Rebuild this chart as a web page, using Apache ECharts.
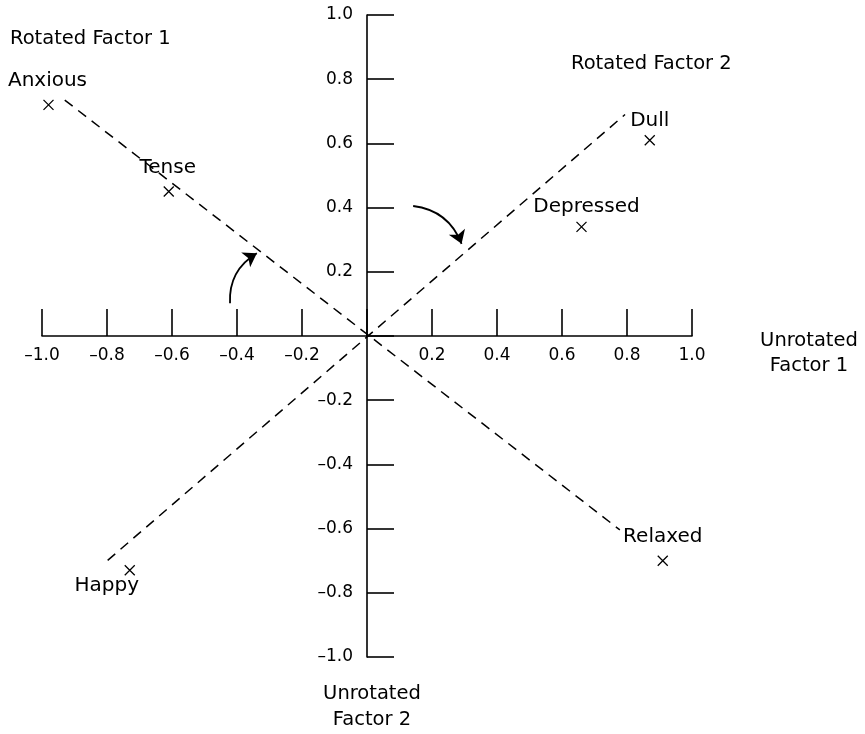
<!DOCTYPE html>
<html>
<head>
<meta charset="utf-8">
<script src="https://cdn.jsdelivr.net/npm/echarts@6/dist/echarts.min.js"></script>
<style>html,body{margin:0;padding:0;background:#fff}#c{width:865px;height:734px}</style>
</head>
<body>
<div id="c"></div>
<script>
// ---- data ----
var pointNames = ['Anxious', 'Tense', 'Dull', 'Depressed', 'Happy', 'Relaxed'];
var factor1 = [-0.98, -0.61, 0.87, 0.66, -0.73, 0.91];
var factor2 = [0.72, 0.45, 0.61, 0.34, -0.73, -0.70];
var rotatedAxis1 = [[-0.93, 0.735], [0.778, -0.604]];
var rotatedAxis2 = [[-0.798, -0.699], [0.794, 0.690]];
var arrow1 = [[-0.4215, 0.102], [-0.339, 0.258]];
var arrow2 = [[0.142, 0.405], [0.291, 0.287]];
var axisMin = -1.0, axisMax = 1.0, axisStep = 0.2;

// ---- styles / layout ----
var FONT = 'DejaVu Sans';
var GRID = { left: 42, right: 173, top: 15, bottom: 77 };
var GW = 865 - GRID.left - GRID.right, GH = 734 - GRID.top - GRID.bottom;
var labelOffsets = {
  'Anxious': [-1, -24], 'Tense': [-1, -24], 'Dull': [0, -19],
  'Depressed': [5, -20], 'Happy': [-23, 15], 'Relaxed': [0, -24]
};

function fmt(v) {
  if (Math.abs(v) < 1e-9) return '';
  return v.toFixed(1).replace('-', '\u2013');
}

var scatterData = pointNames.map(function (n, i) {
  return {
    name: n, value: [factor1[i], factor2[i]],
    label: { offset: labelOffsets[n] }
  };
});

function axis(extra) {
  var a = {
    type: 'value', min: axisMin, max: axisMax, interval: axisStep,
    axisLine: { onZero: false, lineStyle: { color: '#000', width: 1.6 } },
    axisTick: { inside: true, length: 27, lineStyle: { color: '#000', width: 1.6 } },
    splitLine: { show: false },
    axisLabel: { color: '#000', fontFamily: FONT, fontSize: 17, formatter: fmt, showMinLabel: true, showMaxLabel: true, margin: extra.margin }
  };
  a.offset = extra.offset;
  return a;
}

var chart = echarts.init(document.getElementById('c'));
chart.setOption({
  animation: false,
  grid: { left: GRID.left, right: GRID.right, top: GRID.top, bottom: GRID.bottom, containLabel: false, outerBoundsMode: 'none' },
  xAxis: axis({ margin: 11, offset: -GH / 2 }),
  yAxis: axis({ margin: 14, offset: -GW / 2 }),
  graphic: [
    { type: 'text', x: 10, y: 39, style: { text: 'Rotated Factor 1', fontFamily: FONT, fontSize: 19.5, fill: '#000', textAlign: 'left', textVerticalAlign: 'middle' } },
    { type: 'text', x: 571, y: 64, style: { text: 'Rotated Factor 2', fontFamily: FONT, fontSize: 19.5, fill: '#000', textAlign: 'left', textVerticalAlign: 'middle' } },
    { type: 'text', x: 809, y: 353, style: { text: 'Unrotated\nFactor 1', fontFamily: FONT, fontSize: 19.5, lineHeight: 25, fill: '#000', textAlign: 'center', textVerticalAlign: 'middle' } },
    { type: 'text', x: 372, y: 707, style: { text: 'Unrotated\nFactor 2', fontFamily: FONT, fontSize: 19.5, lineHeight: 26, fill: '#000', textAlign: 'center', textVerticalAlign: 'middle' } }
  ],
  series: [
    {
      type: 'line', data: rotatedAxis1, symbol: 'none', silent: true,
      lineStyle: { color: '#000', width: 1.5, type: [10, 7], opacity: 1 }
    },
    {
      type: 'line', data: rotatedAxis2, symbol: 'none', silent: true,
      lineStyle: { color: '#000', width: 1.5, type: [10, 7], opacity: 1 }
    },
    {
      type: 'lines', coordinateSystem: 'cartesian2d', silent: true,
      symbol: ['none', 'arrow'], symbolSize: 13,
      lineStyle: { color: '#000', width: 1.8, curveness: 0.3, opacity: 1 },
      data: [{ coords: arrow1 }, { coords: arrow2 }]
    },
    {
      type: 'scatter', data: scatterData,
      symbol: 'path://M0,0L10,10M10,0L0,10', symbolSize: 10,
      itemStyle: { color: 'none', borderColor: '#000', borderWidth: 1.3, opacity: 1 },
      label: {
        show: true, position: 'inside', formatter: '{b}',
        color: '#000', fontFamily: FONT, fontSize: 20
      }
    }
  ]
});
</script>
</body>
</html>
